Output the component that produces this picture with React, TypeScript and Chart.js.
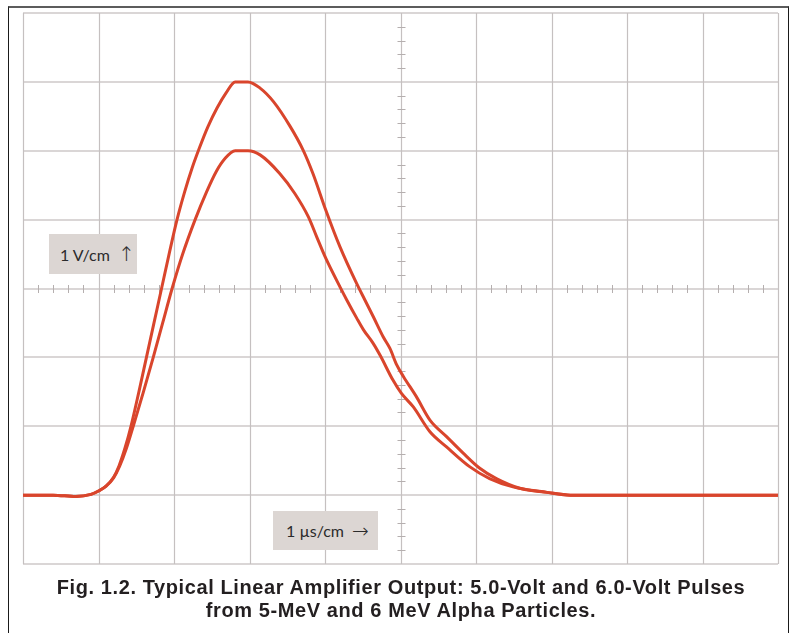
import React, { useEffect, useRef } from "react";
import { Chart, registerables } from "chart.js";

Chart.register(...registerables);

// Time axis in divisions (1 µs/cm), voltage in divisions (1 V/cm)
const time6 = [0, 0.4, 0.7, 0.9, 1.0, 1.1, 1.2, 1.27, 1.35, 1.43, 1.535, 1.635, 1.735, 1.835, 1.935, 2.04, 2.14, 2.24, 2.34, 2.45, 2.57, 2.69, 2.81, 2.98, 3.14, 3.32, 3.54, 3.71, 3.84, 4.01, 4.2, 4.42, 4.53, 4.64, 4.77, 4.86, 4.95, 5.04, 5.21, 5.39, 5.61, 5.83, 6.05, 6.27, 6.58, 6.94, 7.25, 10];
const volts6 = [0, 0, -0.02, 0.01, 0.06, 0.13, 0.26, 0.42, 0.68, 1.0, 1.5, 2.0, 2.5, 3.0, 3.5, 4.0, 4.4, 4.75, 5.05, 5.35, 5.62, 5.84, 6.0, 6.0, 5.91, 5.71, 5.35, 5.01, 4.67, 4.14, 3.6, 3.07, 2.83, 2.59, 2.3, 2.13, 1.89, 1.72, 1.43, 1.09, 0.85, 0.61, 0.39, 0.24, 0.1, 0.04, 0, 0];

const time5 = [0, 0.4, 0.7, 0.9, 1.0, 1.1, 1.2, 1.28, 1.37, 1.46, 1.595, 1.725, 1.85, 1.975, 2.115, 2.28, 2.43, 2.56, 2.67, 2.81, 2.98, 3.14, 3.4, 3.6, 3.78, 3.89, 4.01, 4.2, 4.29, 4.42, 4.51, 4.64, 4.73, 4.9, 5.01, 5.17, 5.39, 5.61, 5.92, 6.18, 6.49, 6.94, 7.25, 10];
const volts5 = [0, 0, -0.02, 0.01, 0.06, 0.13, 0.25, 0.42, 0.68, 1.0, 1.5, 2.0, 2.5, 3.0, 3.5, 4.0, 4.4, 4.7, 4.88, 5.0, 5.0, 4.94, 4.67, 4.38, 4.04, 3.75, 3.44, 3.02, 2.83, 2.57, 2.4, 2.2, 2.03, 1.67, 1.48, 1.28, 0.92, 0.7, 0.41, 0.24, 0.12, 0.04, 0, 0];

const xDivisions = [0, 1, 2, 3, 4, 5, 6, 7, 8, 9, 10];
const yDivisions = [-1, 0, 1, 2, 3, 4, 5, 6, 7];
const xCenter = 5;
const yCenter = 3;
const minorPerDivision = 5;

const voltLabel = "1 V/cm";
const timeLabel = "1 µs/cm";
const captionLine1 = "Fig. 1.2. Typical Linear Amplifier Output: 5.0-Volt and 6.0-Volt Pulses";
const captionLine2 = "from 5-MeV and 6 MeV Alpha Particles.";

const TRACE = "#d9452c";

const gridPlugin = {
  id: "scopeGrid",
  beforeDatasetsDraw(chart: any) {
    const { ctx, scales } = chart;
    const xs = scales.x;
    const ys = scales.y;
    const left = xs.getPixelForValue(xDivisions[0]);
    const right = xs.getPixelForValue(xDivisions[xDivisions.length - 1]);
    const top = ys.getPixelForValue(yDivisions[yDivisions.length - 1]);
    const bottom = ys.getPixelForValue(yDivisions[0]);
    ctx.save();
    ctx.strokeStyle = "#dad6d6";
    ctx.lineWidth = 2;
    yDivisions.forEach((v) => {
      const py = Math.round(ys.getPixelForValue(v));
      ctx.beginPath();
      ctx.moveTo(left, py);
      ctx.lineTo(right, py);
      ctx.stroke();
    });
    ctx.strokeStyle = "#c5c0c0";
    ctx.lineWidth = 1.2;
    xDivisions.forEach((v) => {
      const px = Math.round(xs.getPixelForValue(v)) + 0.5;
      ctx.beginPath();
      ctx.moveTo(px, top);
      ctx.lineTo(px, bottom);
      ctx.stroke();
    });
    ctx.strokeStyle = "#b5afaf";
    ctx.lineWidth = 1;
    const cy = Math.round(ys.getPixelForValue(yCenter));
    const cx = Math.round(xs.getPixelForValue(xCenter)) + 0.5;
    const x0 = xDivisions[0];
    const x1 = xDivisions[xDivisions.length - 1];
    for (let i = 1; i < (x1 - x0) * minorPerDivision; i++) {
      if (i % minorPerDivision === 0) continue;
      const px = Math.round(xs.getPixelForValue(x0 + i / minorPerDivision)) + 0.5;
      ctx.beginPath();
      ctx.moveTo(px, cy - 4);
      ctx.lineTo(px, cy + 4);
      ctx.stroke();
    }
    const y0 = yDivisions[0];
    const y1 = yDivisions[yDivisions.length - 1];
    for (let i = 1; i < (y1 - y0) * minorPerDivision; i++) {
      if (i % minorPerDivision === 0) continue;
      const py = Math.round(ys.getPixelForValue(y0 + i / minorPerDivision)) + 0.5;
      ctx.beginPath();
      ctx.moveTo(cx - 4, py);
      ctx.lineTo(cx + 4, py);
      ctx.stroke();
    }
    ctx.restore();
  },
};

export default function App() {
  const canvasRef = useRef<HTMLCanvasElement | null>(null);

  useEffect(() => {
    const canvas = canvasRef.current;
    if (!canvas) return;
    const chart = new Chart(canvas, {
      type: "line",
      data: {
        datasets: [
          {
            label: "6.0-Volt",
            data: time6.map((t, i) => ({ x: t, y: volts6[i] })),
            borderColor: TRACE,
            borderWidth: 3,
            pointRadius: 0,
            cubicInterpolationMode: "monotone",
            fill: false,
          },
          {
            label: "5.0-Volt",
            data: time5.map((t, i) => ({ x: t, y: volts5[i] })),
            borderColor: TRACE,
            borderWidth: 3,
            pointRadius: 0,
            cubicInterpolationMode: "monotone",
            fill: false,
          },
        ],
      },
      options: {
        responsive: false,
        animation: false,
        layout: { padding: { left: 23, top: 13, right: 13, bottom: 69 } },
        plugins: {
          legend: { display: false },
          tooltip: { enabled: false },
          title: { display: false },
        },
        scales: {
          x: { type: "linear", min: 0, max: 10, display: false },
          y: { type: "linear", min: -1, max: 7, display: false },
        },
      },
      plugins: [gridPlugin],
    });
    return () => chart.destroy();
  }, []);

  const boxStyle: React.CSSProperties = {
    position: "absolute",
    background: "#dcd6d3",
    color: "#2b2b2b",
    fontFamily: "Lato, 'Open Sans', sans-serif",
    fontSize: 16,
    display: "flex",
    alignItems: "center",
    boxSizing: "border-box",
  };
  const arrowStyle: React.CSSProperties = {
    marginLeft: 8,
    fontFamily: "'DejaVu Sans', sans-serif",
    fontSize: 20,
    fontWeight: 300,
    lineHeight: "20px",
  };

  return (
    <div
      style={{
        position: "absolute",
        left: 0,
        top: 0,
        width: 791,
        height: 633,
        overflow: "hidden",
        background: "#fff",
      }}
    >
      <canvas ref={canvasRef} width={791} height={633} style={{ position: "absolute", left: 0, top: 0 }} />
      <div
        style={{
          position: "absolute",
          left: 8,
          top: 6,
          width: 781,
          height: 700,
          borderTop: "2px solid #5c5c5c",
          borderLeft: "1.5px solid #1a1a1a",
          borderRight: "1.5px solid #1a1a1a",
          boxSizing: "border-box",
          pointerEvents: "none",
        }}
      />
      <div style={{ ...boxStyle, left: 49, top: 234, width: 88, height: 40, paddingLeft: 11 }}>
        <span>{voltLabel}</span>
        <span style={arrowStyle}>↑</span>
      </div>
      <div style={{ ...boxStyle, left: 273, top: 511, width: 105, height: 39, paddingLeft: 13 }}>
        <span>{timeLabel}</span>
        <span style={arrowStyle}>→</span>
      </div>
      <div
        style={{
          position: "absolute",
          left: 0,
          width: 802,
          top: 576,
          textAlign: "center",
          fontFamily: "'Liberation Sans', Arial, sans-serif",
          fontWeight: "bold",
          fontSize: 20,
          letterSpacing: "0.6px",
          lineHeight: "23px",
          color: "#231f20",
        }}
      >
        <div>{captionLine1}</div>
        <div>{captionLine2}</div>
      </div>
    </div>
  );
}
